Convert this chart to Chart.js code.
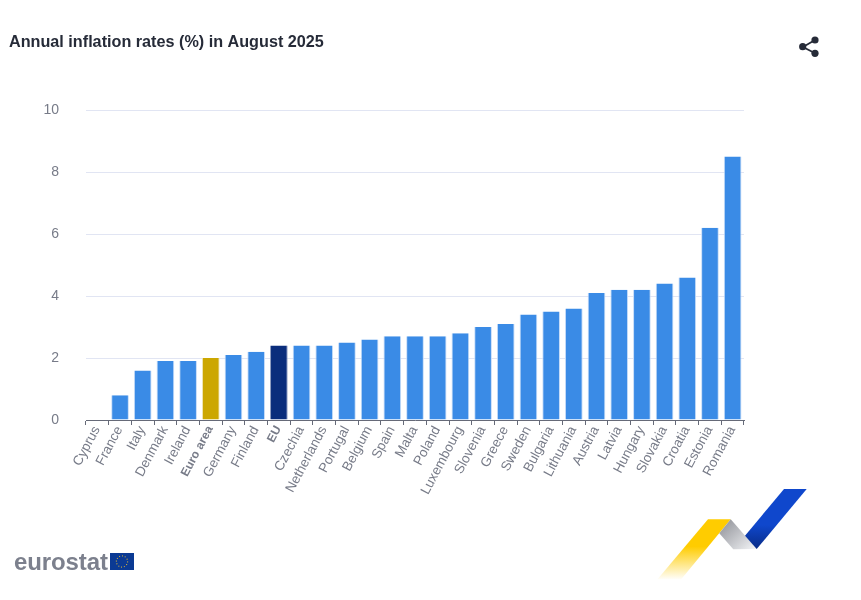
<!DOCTYPE html>
<html>
<head>
<meta charset="utf-8">
<script src="https://cdn.jsdelivr.net/npm/chart.js@4"></script>
<style>
  body { margin: 0; background: #fff; }
  #wrap { position: relative; width: 861px; height: 600px; overflow: hidden; }
  #myChart { position: absolute; left: 0; top: 0; }
  svg { position: absolute; left: 0; top: 0; }
  #brand { position: absolute; left: 14px; top: 548px; font: bold 24px "Liberation Sans", Arial, sans-serif; letter-spacing: -0.1px; color: #7c808d; line-height: 28px; }
</style>
</head>
<body>
<div id="wrap">
  <canvas id="myChart" width="861" height="600"></canvas>
  <div id="brand">eurostat</div>
  <svg width="861" height="600" viewBox="0 0 861 600">
    <defs>
      <linearGradient id="yellow" x1="0" y1="519" x2="0" y2="580" gradientUnits="userSpaceOnUse">
        <stop offset="0.45" stop-color="#ffcc00"/>
        <stop offset="1" stop-color="#ffffff"/>
      </linearGradient>
      <linearGradient id="blue" x1="0" y1="489" x2="0" y2="549" gradientUnits="userSpaceOnUse">
        <stop offset="0.6" stop-color="#0f47cc"/>
        <stop offset="1" stop-color="#082b86"/>
      </linearGradient>
      <linearGradient id="grey" x1="722" y1="522" x2="750" y2="552" gradientUnits="userSpaceOnUse">
        <stop offset="0" stop-color="#94969c"/>
        <stop offset="1" stop-color="#eff0f3"/>
      </linearGradient>
    </defs>
    <!-- flag -->
    <rect x="110" y="553" width="24" height="17" fill="#0b3a94"/>
    <circle cx="122" cy="561.5" r="5.6" fill="none" stroke="#f2c230" stroke-width="1.1" pathLength="12" stroke-dasharray="0.3 0.7"/>
    <!-- ribbon -->
    <polygon points="708,519.3 730.7,519.3 681,579.5 657.3,579.5" fill="url(#yellow)"/>
    <polygon points="730.7,519.3 756.7,549 733.3,549.3 719.3,533.3" fill="url(#grey)"/>
    <polygon points="784,489 806.7,489 756.7,549 745,535.7" fill="url(#blue)"/>
    <!-- share icon -->
    <g fill="#262b38" stroke="#262b38">
      <line x1="803" y1="47" x2="815" y2="40" stroke-width="1.8"/>
      <line x1="803" y1="47" x2="815" y2="53.3" stroke-width="1.8"/>
      <circle cx="802.7" cy="46.7" r="3.6" stroke="none"/>
      <circle cx="815" cy="40" r="3.6" stroke="none"/>
      <circle cx="815" cy="53.3" r="3.6" stroke="none"/>
    </g>
  </svg>
</div>
<script>
const categories = ['Cyprus', 'France', 'Italy', 'Denmark', 'Ireland', 'Euro area', 'Germany', 'Finland', 'EU',
    'Czechia', 'Netherlands', 'Portugal', 'Belgium', 'Spain', 'Malta', 'Poland', 'Luxembourg', 'Slovenia', 'Greece',
    'Sweden', 'Bulgaria', 'Lithuania', 'Austria', 'Latvia', 'Hungary', 'Slovakia', 'Croatia', 'Estonia', 'Romania'];
const rates = [0, 0.8, 1.6, 1.9, 1.9, 2.0, 2.1, 2.2, 2.4,
    2.4, 2.4, 2.5, 2.6, 2.7, 2.7, 2.7, 2.8, 3.0, 3.1,
    3.4, 3.5, 3.6, 4.1, 4.2, 4.2, 4.4, 4.6, 6.2, 8.5];
const yTicks = [0, 2, 4, 6, 8, 10];
const boldLabels = ['Euro area', 'EU'];

const fontFamily = '"Liberation Sans", Arial, sans-serif';
const barColors = categories.map((name) => {
    if (name === 'Euro area') return '#cca700';
    if (name === 'EU') return '#0a2d7c';
    return '#3a8be6';
});
const barEdges = categories.map((name) => {
    if (name === 'Euro area') return '#f0e6b8';
    if (name === 'EU') return '#8e9cc0';
    return '#c6dcf8';
});

const ctx = document.getElementById('myChart');
const myChart = new Chart(ctx, {
    type: 'bar',
    data: {
        labels: categories,
        datasets: [{
            data: rates,
            backgroundColor: barColors,
            borderColor: barEdges,
            borderWidth: { left: 1, right: 1, top: 0, bottom: 0 },
            borderSkipped: false,
            barPercentage: 0.78,
            categoryPercentage: 1
        }]
    },
    options: {
        responsive: false,
        animation: false,
        devicePixelRatio: 1,
        layout: { padding: { left: 9, right: 117, top: 32.5, bottom: 0 } },
        plugins: {
            legend: { display: false },
            tooltip: { enabled: false },
            title: {
                display: true,
                text: 'Annual inflation rates (%) in August 2025',
                align: 'start',
                color: '#262b38',
                font: { family: fontFamily, size: 16.2, weight: 'bold' },
                padding: { top: 0, bottom: 58.06 }
            }
        },
        scales: {
            x: {
                afterFit: (scale) => { scale.height = 180; },
                grid: { drawOnChartArea: false, offset: true, tickLength: 5, tickColor: '#666a78' },
                border: { color: '#666a78', width: 1 },
                ticks: {
                    autoSkip: false,
                    maxRotation: 62,
                    minRotation: 62,
                    padding: -1.5,
                    labelOffset: -0.5,
                    color: '#777b88',
                    font: (c) => ({
                        family: fontFamily,
                        size: boldLabels.includes(categories[c.index]) ? 12 : 13.5,
                        weight: boldLabels.includes(categories[c.index]) ? 'bold' : 'normal'
                    })
                }
            },
            y: {
                min: 0,
                max: 10,
                afterFit: (scale) => { scale.width = 77; },
                afterBuildTicks: (scale) => { scale.ticks = yTicks.map((v) => ({ value: v })); },
                grid: { color: '#e1e5f3', drawTicks: false },
                border: { display: false },
                ticks: {
                    padding: 27,
                    color: '#777b88',
                    font: { family: fontFamily, size: 14 }
                }
            }
        }
    }
});
</script>
</body>
</html>
